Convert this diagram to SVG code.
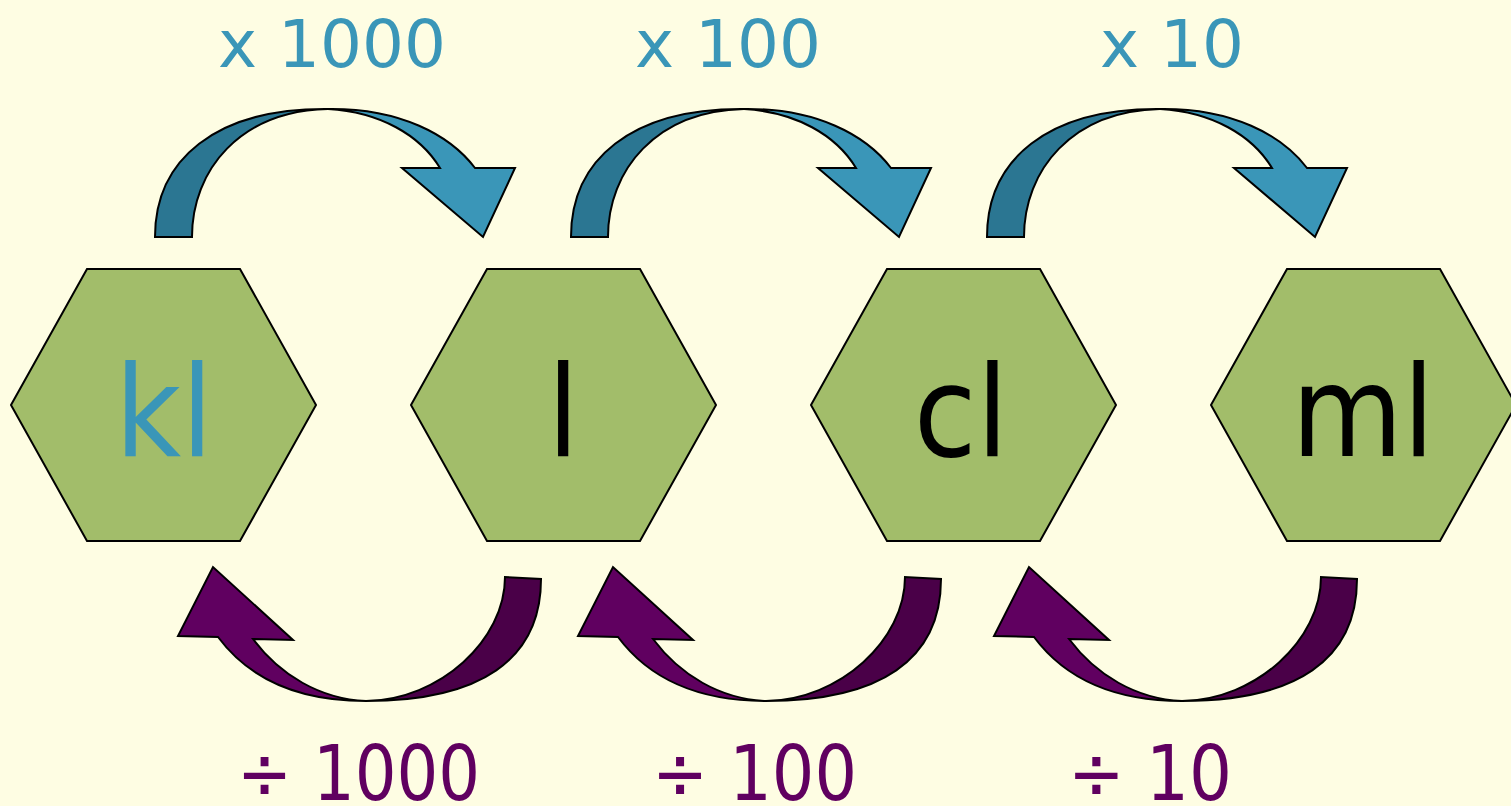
<svg xmlns="http://www.w3.org/2000/svg" width="1511" height="806" viewBox="0 0 1511 806">
<style>
.hex{fill:#a2bd6a;stroke:#000;stroke-width:2}
.lbl{font-family:"DejaVu Sans Condensed","DejaVu Sans",Verdana,sans-serif;font-size:127px;text-anchor:middle}
.op{font-family:"DejaVu Sans",Verdana,sans-serif;font-size:66px;text-anchor:middle}
.dv{font-family:"DejaVu Sans Condensed","DejaVu Sans",Tahoma,sans-serif;font-size:77px}
.up{fill:#3a96b8}
.dn{fill:#600060}
.ad{fill:#2b7692;stroke:#000;stroke-width:2;stroke-linejoin:miter}
.al{fill:#3a96b8;stroke:#000;stroke-width:2;stroke-linejoin:miter}
.pd{fill:#4a0048;stroke:#000;stroke-width:2}
.pl{fill:#600060;stroke:#000;stroke-width:2}
</style>
<defs>
<g id="topArrow">
<path class="ad" d="M155,237 C155,160 215,108 328,109 C240,111 192,170 192,237 Z"/>
<path class="al" d="M328,109 C400,108 450,135 475,168 L515,168 L483,237 L402,168 L440,168 C420,135 380,112 328,109 Z"/>
</g>
<g id="botArrow">
<path class="pd" d="M505,577 C505,640 440,700 366,701 C480,701 541,660 541,579 Z"/>
<path class="pl" d="M366,701 C300,701 250,680 218,637 L178,636 L213,567 L293,640 L253,639 C280,675 320,699 366,701 Z"/>
</g>
</defs>
<rect width="1511" height="806" fill="#fefde3"/>
<g id="connectors">
<use href="#topArrow"/>
<use href="#topArrow" transform="translate(416,0)"/>
<use href="#topArrow" transform="translate(832,0)"/>
<use href="#botArrow"/>
<use href="#botArrow" transform="translate(400,0)"/>
<use href="#botArrow" transform="translate(816,0)"/>
<text class="op up" x="332" y="67">x 1000</text>
<text class="op up" x="728" y="67">x 100</text>
<text class="op up" x="1172" y="67">x 10</text>
<text class="dv dn" x="237" y="800" textLength="243" lengthAdjust="spacingAndGlyphs">÷ 1000</text>
<text class="dv dn" x="652" y="800" textLength="205" lengthAdjust="spacingAndGlyphs">÷ 100</text>
<text class="dv dn" x="1068" y="800" textLength="164" lengthAdjust="spacingAndGlyphs">÷ 10</text>
</g>
<g id="node-kl">
<polygon class="hex" points="11,405 87,269 240,269 316,405 240,541 87,541"/>
<text class="lbl" x="164" y="456" fill="#3a96b8">kl</text>
</g>
<g id="node-l">
<polygon class="hex" points="411,405 487,269 640,269 716,405 640,541 487,541"/>
<text class="lbl" x="563" y="456" fill="#000">l</text>
</g>
<g id="node-cl">
<polygon class="hex" points="811,405 887,269 1040,269 1116,405 1040,541 887,541"/>
<text class="lbl" x="961" y="456" fill="#000">cl</text>
</g>
<g id="node-ml">
<polygon class="hex" points="1211,405 1287,269 1440,269 1516,405 1440,541 1287,541"/>
<text class="lbl" x="1363" y="456" fill="#000">ml</text>
</g>
</svg>
